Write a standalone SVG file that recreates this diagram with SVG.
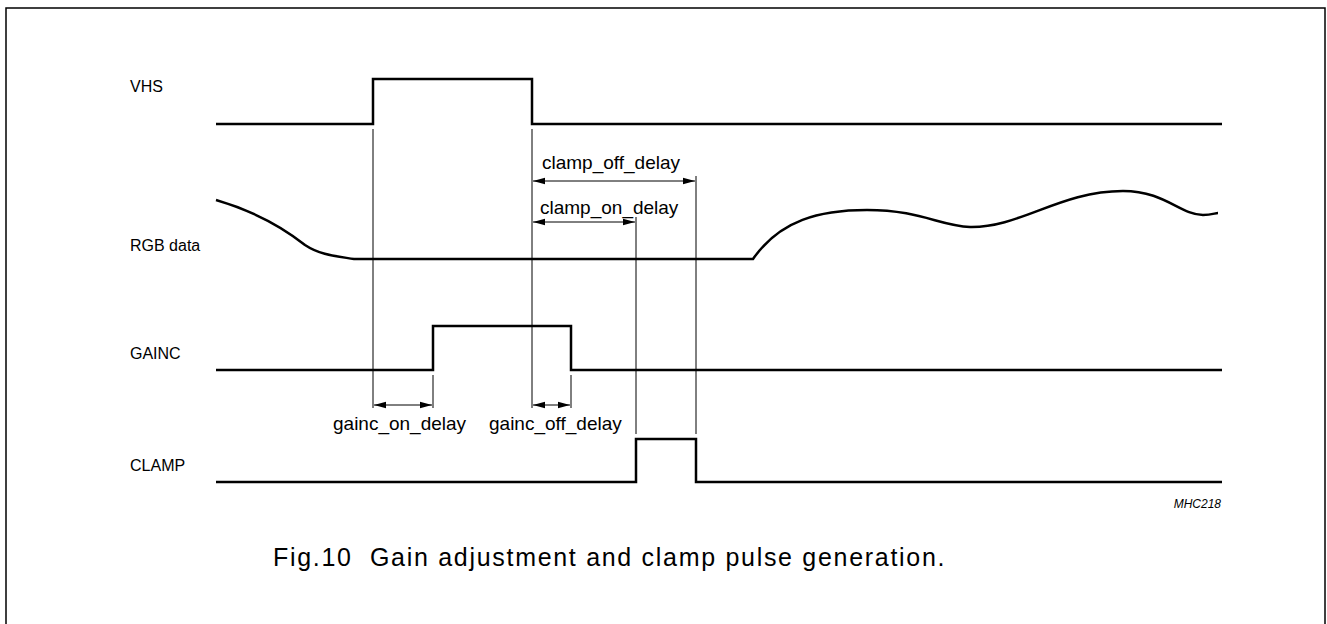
<svg xmlns="http://www.w3.org/2000/svg" width="1327" height="624" viewBox="0 0 1327 624">
<defs>
<style>
.sig{fill:none;stroke:#000;stroke-width:2.5}
.guide{fill:none;stroke:#000;stroke-width:1}
.lbl{font-family:"Liberation Sans",Arial,sans-serif;font-size:16px;fill:#000}
.dl{font-family:"Liberation Sans",Arial,sans-serif;font-size:19px;fill:#000}
.cap{font-family:"Liberation Sans",Arial,sans-serif;font-size:25px;letter-spacing:1.7px;fill:#000}
.code{font-family:"Liberation Sans",Arial,sans-serif;font-size:12px;font-style:italic;fill:#000}
</style>
<marker id="ah" viewBox="0 0 12 8" refX="12" refY="4" markerWidth="12" markerHeight="8" markerUnits="userSpaceOnUse" orient="auto-start-reverse">
<path d="M0,0.8 L12,4 L0,7.2 Z" fill="#000"/>
</marker>
</defs>
<rect width="1327" height="624" fill="#fff"/>
<rect x="6" y="8" width="1319" height="640" fill="none" stroke="#000" stroke-width="1.5"/>

<g id="VHS">
<text class="lbl" x="130" y="92">VHS</text>
<path class="sig" d="M216,124 H373 V79 H532 V124 H1222"/>
</g>
<g id="RGB">
<text class="lbl" x="130" y="251">RGB data</text>
<path class="sig" d="M216,200 C250,210 280,225 305,245 C320,255 335,256 354,259 H753 C780,220 820,210 867,210 C920,210 940,226 970,227 C1020,228 1060,191 1123,191 C1165,191 1180,215 1203,215 C1212,215 1215,213 1218,213"/>
</g>
<g id="GAINC">
<text class="lbl" x="130" y="359">GAINC</text>
<path class="sig" d="M216,370 H433 V326 H571 V370 H1222"/>
</g>
<g id="CLAMP">
<text class="lbl" x="130" y="471">CLAMP</text>
<path class="sig" d="M216,482 H636 V439 H696 V482 H1222"/>
</g>

<g id="connectors">
<path class="guide" d="M373,129 V408 M532,129 V408 M696,176 V434 M636,217 V434 M433,375 V408 M571,375 V408"/>
<line class="guide" x1="533" y1="181" x2="695" y2="181" marker-start="url(#ah)" marker-end="url(#ah)"/>
<line class="guide" x1="533" y1="222" x2="635" y2="222" marker-start="url(#ah)" marker-end="url(#ah)"/>
<line class="guide" x1="374" y1="405" x2="432" y2="405" marker-start="url(#ah)" marker-end="url(#ah)"/>
<line class="guide" x1="533" y1="405" x2="570" y2="405" marker-start="url(#ah)" marker-end="url(#ah)"/>
</g>

<g id="labels">
<text class="dl" x="542" y="169">clamp_off_delay</text>
<text class="dl" x="540" y="214">clamp_on_delay</text>
<text class="dl" x="333" y="430">gainc_on_delay</text>
<text class="dl" x="489" y="430">gainc_off_delay</text>
<text class="code" x="1221" y="508" text-anchor="end">MHC218</text>
<text class="cap" x="273" y="566">Fig.10&#160; Gain adjustment and clamp pulse generation.</text>
</g>
</svg>
